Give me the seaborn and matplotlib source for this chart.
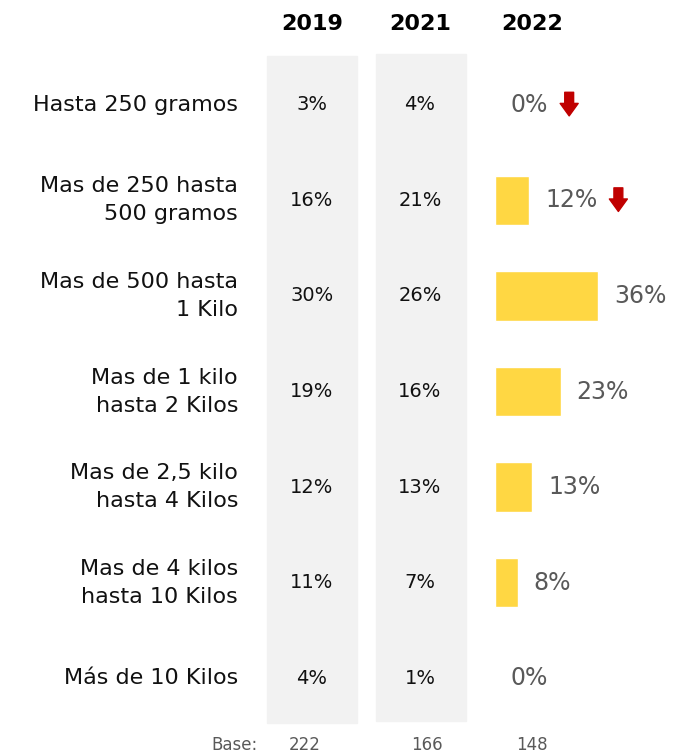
import matplotlib
matplotlib.use('Agg')
import matplotlib.pyplot as plt
import matplotlib.transforms as mtransforms
from matplotlib.patches import Rectangle
from matplotlib.text import OffsetFrom
import seaborn as sns
import pandas as pd

# Data
categories = ['Hasta 250 gramos',
              'Mas de 250 hasta\n500 gramos',
              'Mas de 500 hasta\n1 Kilo',
              'Mas de 1 kilo\nhasta 2 Kilos',
              'Mas de 2,5 kilo\nhasta 4 Kilos',
              'Mas de 4 kilos\nhasta 10 Kilos',
              'Más de 10 Kilos']
years = ['2019', '2021', '2022']
values_2019 = [3, 16, 30, 19, 12, 11, 4]
values_2021 = [4, 21, 26, 16, 13, 7, 1]
values_2022 = [0, 12, 36, 23, 13, 8, 0]
down_arrow = [True, True, False, False, False, False, False]
bases = [222, 166, 148]

sns.set_style('white')
plt.rcParams['font.family'] = ['DejaVu Sans']

W, H = 674, 754
fig = plt.figure(figsize=(W / 100, H / 100), dpi=100)

# gray background columns for 2019 and 2021
fig.patches.append(Rectangle((267 / W, 1 - 723 / H), 90 / W, 667 / H,
                             transform=fig.transFigure, color='#F2F2F2', zorder=0))
fig.patches.append(Rectangle((376 / W, 1 - 721 / H), 90 / W, 667 / H,
                             transform=fig.transFigure, color='#F2F2F2', zorder=0))

# axes for the 2022 bars
ax = fig.add_axes([495 / W, 1 - 726 / H, 179 / W, 669 / H])
ax.patch.set_alpha(0)
df = pd.DataFrame({'cat': categories, 'val': values_2022})
sns.barplot(data=df, x='val', y='cat', orient='h', color='#FFD743',
            saturation=1, width=0.52, ax=ax)
ax.set_xlim(0, 62.6)
ax.set_ylim(6.5, -0.5)
ax.set_axis_off()

trans = mtransforms.blended_transform_factory(fig.transFigure, ax.transData)

for i, cat in enumerate(categories):
    fig.text(238 / W, i, cat, transform=trans, ha='right', va='center',
             fontsize=16, color='#111111', linespacing=1.5)
    fig.text(312 / W, i, f'{values_2019[i]}%', transform=trans, ha='center',
             va='center', fontsize=14, color='#111111')
    fig.text(420 / W, i, f'{values_2021[i]}%', transform=trans, ha='center',
             va='center', fontsize=14, color='#111111')
    txt = ax.annotate(f'{values_2022[i]}%', xy=(values_2022[i], i),
                      xytext=(11.5, 0), textcoords='offset points',
                      ha='left', va='center', fontsize=17, color='#595959')
    if down_arrow[i]:
        off = OffsetFrom(txt, (1, 0.5))
        ax.annotate('', xy=(15, -8), xycoords=off, xytext=(15, 9), textcoords=off,
                    arrowprops=dict(arrowstyle='simple,head_length=0.45,head_width=0.65,tail_width=0.32',
                                    color='#C00000', shrinkA=0, shrinkB=0,
                                    mutation_scale=20))

# headers
for x, yr in zip([312, 420, 532], years):
    fig.text(x / W, 1 - 24 / H, yr, ha='center', va='center',
             fontsize=16, fontweight='bold', color='black')

# base row
fig.text(258 / W, 1 - 745 / H, 'Base:', ha='right', va='center',
         fontsize=12, color='#595959')
for x, b in zip([305, 427, 532], bases):
    fig.text(x / W, 1 - 745 / H, str(b), ha='center', va='center',
             fontsize=12, color='#595959')

fig.savefig('out.png', dpi=100)
